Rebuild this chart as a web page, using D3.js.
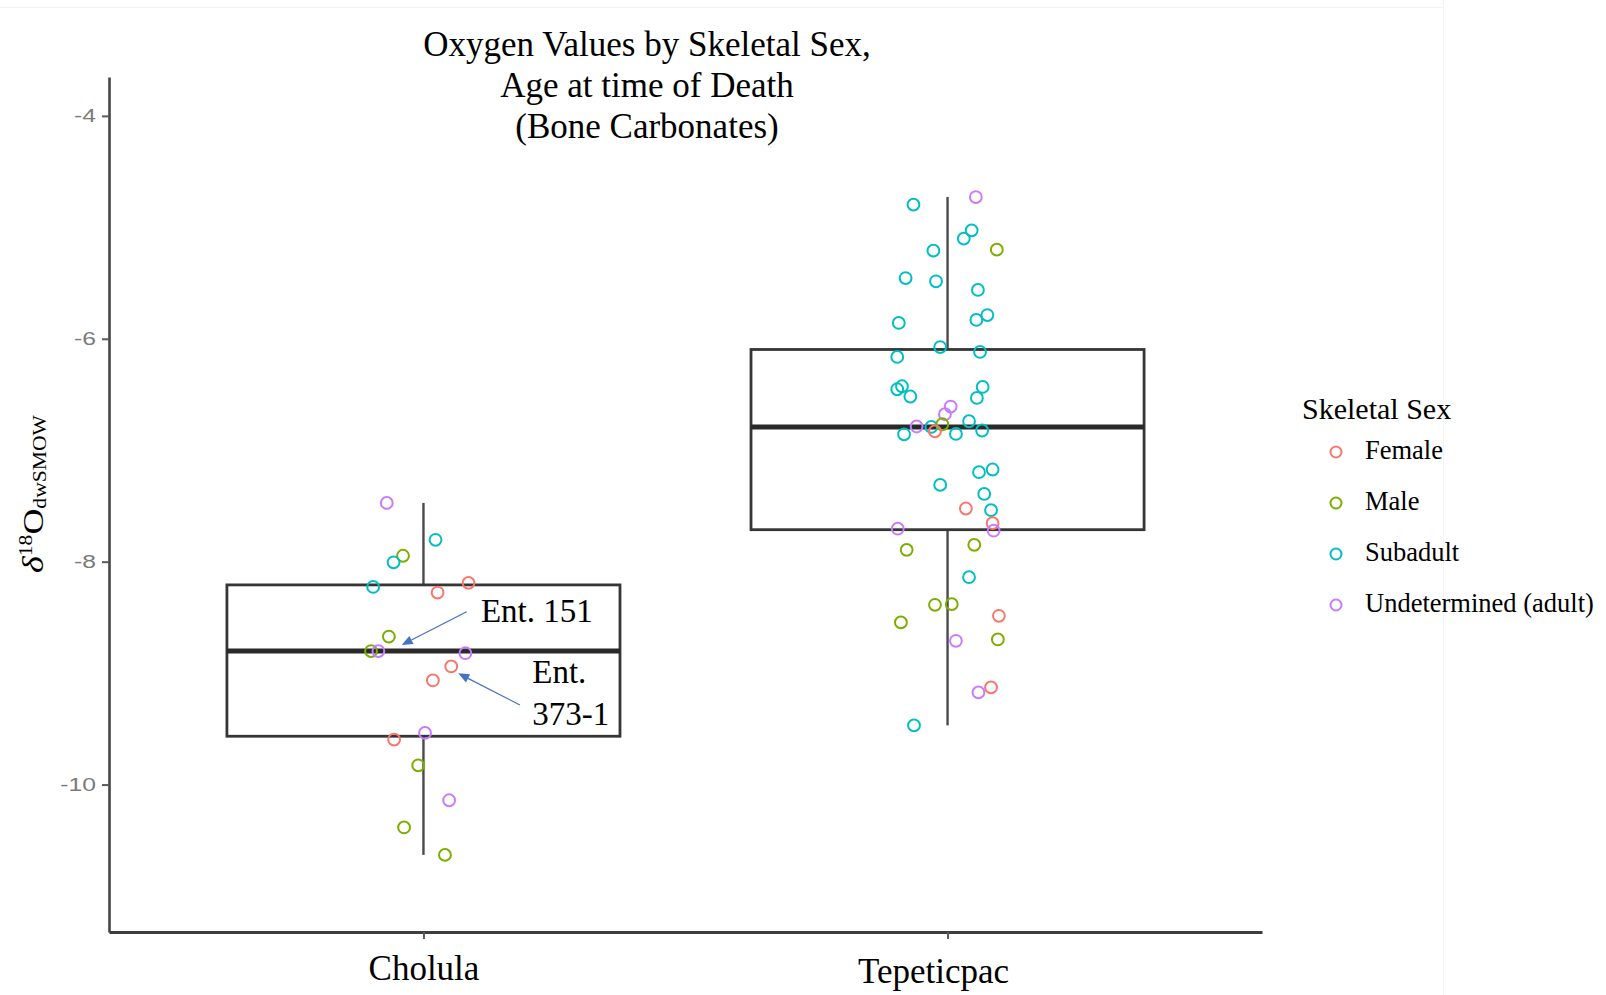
<!DOCTYPE html>
<html>
<head>
<meta charset="utf-8">
<script src="https://cdn.jsdelivr.net/npm/d3@7"></script>
<style>
  html, body { margin: 0; padding: 0; background: #ffffff; }
  svg { display: block; }
</style>
</head>
<body>
<svg id="chart" width="1606" height="995"></svg>
<script>
// ---------------- DATA ----------------
const categories = ["Cholula", "Tepeticpac"];
const sexLevels = ["Female", "Male", "Subadult", "Undetermined (adult)"];
const sexColors = ["#F8766D", "#7CAE00", "#00BFC4", "#C77CFF"];
const yTickValues = [-10, -8, -6, -4];
const titleLines = ["Oxygen Values by Skeletal Sex,", "Age at time of Death", "(Bone Carbonates)"];
const legendTitle = "Skeletal Sex";

// Cholula: d18O values, skeletal sex code, horizontal jitter (category units)
const cholulaValues = [-7.473, -7.804, -7.947, -8.006, -8.227, -8.190, -8.277, -8.672, -8.802, -8.802,
                       -8.821, -8.940, -9.066, -9.537, -9.596, -9.827, -10.141, -10.385, -10.631];
const cholulaSex    = ["U", "S", "M", "S", "S", "F", "F", "M", "M", "U",
                       "U", "F", "F", "U", "F", "M", "U", "M", "M"];
const cholulaJitter = [-0.070, 0.023, -0.039, -0.057, -0.096, 0.086, 0.027, -0.066, -0.100, -0.086,
                       0.080, 0.053, 0.018, 0.003, -0.056, -0.010, 0.049, -0.037, 0.041];

// Tepeticpac
const tepeticpacValues = [-4.796, -4.728, -5.027, -5.101, -5.200, -5.209, -5.455, -5.484, -5.562, -5.787,
                          -5.831, -5.858, -6.074, -6.118, -6.163, -6.426, -6.453, -6.518, -6.432, -6.531,
                          -6.608, -6.677, -6.740, -6.787, -6.791, -6.767, -6.830, -6.857, -6.854, -6.823,
                          -7.173, -7.197, -7.311, -7.392, -7.523, -7.538, -7.655, -7.722, -7.704, -7.894,
                          -7.849, -8.139, -8.387, -8.381, -8.486, -8.545, -8.710, -8.698, -9.128, -9.173,
                          -9.469];
const tepeticpacSex    = ["S", "U", "S", "S", "M", "S", "S", "S", "S", "S",
                          "S", "S", "S", "S", "S", "S", "S", "S", "S", "S",
                          "U", "U", "S", "U", "S", "M", "F", "S", "S", "S",
                          "S", "S", "S", "S", "F", "S", "F", "U", "U", "M",
                          "M", "S", "M", "M", "F", "M", "U", "M", "F", "U",
                          "S"];
const tepeticpacJitter = [-0.065, 0.054, 0.046, 0.031, 0.094, -0.027, -0.080, -0.022, 0.058, 0.076,
                          0.055, -0.093, -0.014, 0.062, -0.096, -0.087, -0.096, -0.071, 0.067, 0.056,
                          0.006, -0.005, 0.041, -0.059, -0.031, -0.010, -0.024, -0.083, 0.016, 0.066,
                          0.086, 0.060, -0.014, 0.070, 0.035, 0.083, 0.086, 0.088, -0.095, -0.078,
                          0.051, 0.041, -0.024, 0.008, 0.098, -0.089, 0.016, 0.096, 0.083, 0.059,
                          -0.064];

const sexCodes = {F: "Female", M: "Male", S: "Subadult", U: "Undetermined (adult)"};

// Annotations (text lines, category)
const annotationLabels = [["Ent. 151"], ["Ent.", "373-1"]];
const annotationCategory = ["Cholula", "Cholula"];

// ---------------- SETUP ----------------
const svg = d3.select("#chart");
const serif = '"Liberation Serif", "Times New Roman", Times, serif';
const sans = '"Liberation Sans", Arial, Helvetica, sans-serif';

// faint screenshot seams
svg.append("line").attr("x1", 0).attr("x2", 1443).attr("y1", 7.5).attr("y2", 7.5)
  .attr("stroke", "#f3f3f3").attr("stroke-width", 1);
svg.append("line").attr("x1", 1443.5).attr("x2", 1443.5).attr("y1", 0).attr("y2", 995)
  .attr("stroke", "#f4f4f4").attr("stroke-width", 1);

const x = d3.scalePoint().domain(categories).range([109, 1262]).padding(0.6);
const y = d3.scaleLinear().domain([-11.323, -3.651]).range([932, 77]);
const color = d3.scaleOrdinal().domain(sexLevels).range(sexColors);
const step = x.step();
const boxHalf = 0.375 * step;

const sites = [
  {cat: "Cholula", values: cholulaValues, sex: cholulaSex, jitter: cholulaJitter},
  {cat: "Tepeticpac", values: tepeticpacValues, sex: tepeticpacSex, jitter: tepeticpacJitter}
];

// ---------------- BOXPLOTS ----------------
const gBox = svg.append("g");
sites.forEach(site => {
  const s = site.values.slice().sort(d3.ascending);
  const q1 = d3.quantileSorted(s, 0.25);
  const med = d3.quantileSorted(s, 0.5);
  const q3 = d3.quantileSorted(s, 0.75);
  const iqr = q3 - q1;
  const lo = d3.min(s.filter(v => v >= q1 - 1.5 * iqr));
  const hi = d3.max(s.filter(v => v <= q3 + 1.5 * iqr));
  const cx = x(site.cat);
  gBox.append("line").attr("x1", cx).attr("x2", cx).attr("y1", y(hi)).attr("y2", y(q3))
    .attr("stroke", "#4a4a4a").attr("stroke-width", 2.4);
  gBox.append("line").attr("x1", cx).attr("x2", cx).attr("y1", y(q1)).attr("y2", y(lo))
    .attr("stroke", "#4a4a4a").attr("stroke-width", 2.4);
  gBox.append("rect").attr("x", cx - boxHalf).attr("y", y(q3))
    .attr("width", 2 * boxHalf).attr("height", y(q1) - y(q3))
    .attr("fill", "#ffffff").attr("stroke", "#363636").attr("stroke-width", 2.8);
  gBox.append("line").attr("x1", cx - boxHalf).attr("x2", cx + boxHalf)
    .attr("y1", y(med)).attr("y2", y(med))
    .attr("stroke", "#2a2a2a").attr("stroke-width", 5);
});

// ---------------- POINTS ----------------
const pts = [];
sites.forEach(site => site.values.forEach((v, i) => {
  pts.push({cat: site.cat, value: v, sex: sexCodes[site.sex[i]], jitter: site.jitter[i]});
}));
svg.append("g").selectAll("circle").data(pts).join("circle")
  .attr("cx", d => x(d.cat) + d.jitter * step)
  .attr("cy", d => y(d.value))
  .attr("r", 5.9)
  .attr("fill", "none")
  .attr("stroke", d => color(d.sex))
  .attr("stroke-width", 2);

// ---------------- AXES ----------------
const yAxis = d3.axisLeft(y).tickValues(yTickValues).tickFormat(d => String(d))
  .tickSize(7).tickPadding(6).tickSizeOuter(0);
const gy = svg.append("g").attr("transform", "translate(109,0)").call(yAxis);
gy.select(".domain").attr("stroke", "#454545").attr("stroke-width", 2.6);
gy.selectAll(".tick line").attr("stroke", "#5a5a5a").attr("stroke-width", 2);
const yLabStretch = 1.3;
gy.selectAll(".tick text")
  .attr("font-family", sans).attr("font-size", 19).attr("fill", "#7a7a7a")
  .attr("x", -13 / yLabStretch)
  .attr("transform", `scale(${yLabStretch},1)`);

const xAxis = d3.axisBottom(x).tickSize(7).tickSizeOuter(0);
const gx = svg.append("g").attr("transform", "translate(0,932)").call(xAxis);
gx.select(".domain").attr("stroke", "#3e3e3e").attr("stroke-width", 2.8);
gx.selectAll(".tick line").attr("stroke", "#5a5a5a").attr("stroke-width", 2);
gx.selectAll(".tick text")
  .attr("font-family", serif).attr("font-size", 35).attr("fill", "#000")
  .attr("dy", null)
  .attr("y", d => d === "Tepeticpac" ? 51 : 48)
  .attr("dx", d => d === "Tepeticpac" ? -14.5 : 0);

// ---------------- TITLE ----------------
const title = svg.append("text").attr("font-family", serif).attr("font-size", 35)
  .attr("text-anchor", "middle").attr("fill", "#000");
const titleBaselines = [56, 97, 137.5];
titleLines.forEach((t, i) => {
  title.append("tspan").attr("x", 647).attr("y", titleBaselines[i]).text(t);
});

// ---------------- Y LABEL ----------------
const ylab = svg.append("text")
  .attr("transform", "translate(43,494) rotate(-90) scale(1.2,1)")
  .attr("text-anchor", "middle").attr("font-family", serif).attr("fill", "#000");
ylab.append("tspan").attr("font-style", "italic").attr("font-size", 30).text("δ");
ylab.append("tspan").attr("font-size", 18).attr("dy", -11).text("18");
ylab.append("tspan").attr("font-size", 30).attr("dy", 11).text("O");
ylab.append("tspan").attr("font-size", 18).attr("dy", 2.5).text("dwSMOW");

// ---------------- LEGEND ----------------
const gLeg = svg.append("g");
gLeg.append("text").attr("x", 1302).attr("y", 419).attr("font-family", serif)
  .attr("font-size", 30).attr("fill", "#000").text(legendTitle);
const legRow0 = 452, legGap = 51;
sexLevels.forEach((s, i) => {
  const cy = legRow0 + i * legGap;
  gLeg.append("circle").attr("cx", 1336).attr("cy", cy).attr("r", 5.5)
    .attr("fill", "none").attr("stroke", color(s)).attr("stroke-width", 2);
  gLeg.append("text").attr("x", 1365).attr("y", cy + 7).attr("font-family", serif)
    .attr("font-size", 26.5).attr("fill", "#000").text(s);
});

// ---------------- ANNOTATIONS ----------------
// geometry in data units: [jitter offset, value]
const annTip  = [[-0.0416, -8.748], [0.0664, -9.002]];
const annTail = [[0.0824, -8.449], [0.1841, -9.286]];
const annText = [[0.1097, -8.539], [0.2076, -9.092]];
const gAnn = svg.append("g");
annotationLabels.forEach((lines, i) => {
  const cx = x(annotationCategory[i]);
  const tx = cx + annTip[i][0] * step, ty = y(annTip[i][1]);
  const sx = cx + annTail[i][0] * step, sy = y(annTail[i][1]);
  const dx = tx - sx, dy = ty - sy, len = Math.hypot(dx, dy);
  const ux = dx / len, uy = dy / len;
  const headL = 11, headW = 4.6;
  const bx = tx - ux * headL, by = ty - uy * headL;
  gAnn.append("line").attr("x1", sx).attr("y1", sy).attr("x2", bx).attr("y2", by)
    .attr("stroke", "#4472C4").attr("stroke-width", 1.3);
  gAnn.append("path")
    .attr("d", `M${tx},${ty}L${bx - uy * headW},${by + ux * headW}L${bx + uy * headW},${by - ux * headW}Z`)
    .attr("fill", "#4472C4");
  const t = gAnn.append("text").attr("font-family", serif).attr("font-size", 33).attr("fill", "#000");
  const lx = cx + annText[i][0] * step, ly = y(annText[i][1]);
  lines.forEach((ln, k) => {
    t.append("tspan").attr("x", lx).attr("y", ly + k * 41.7).text(ln);
  });
});
</script>
</body>
</html>
